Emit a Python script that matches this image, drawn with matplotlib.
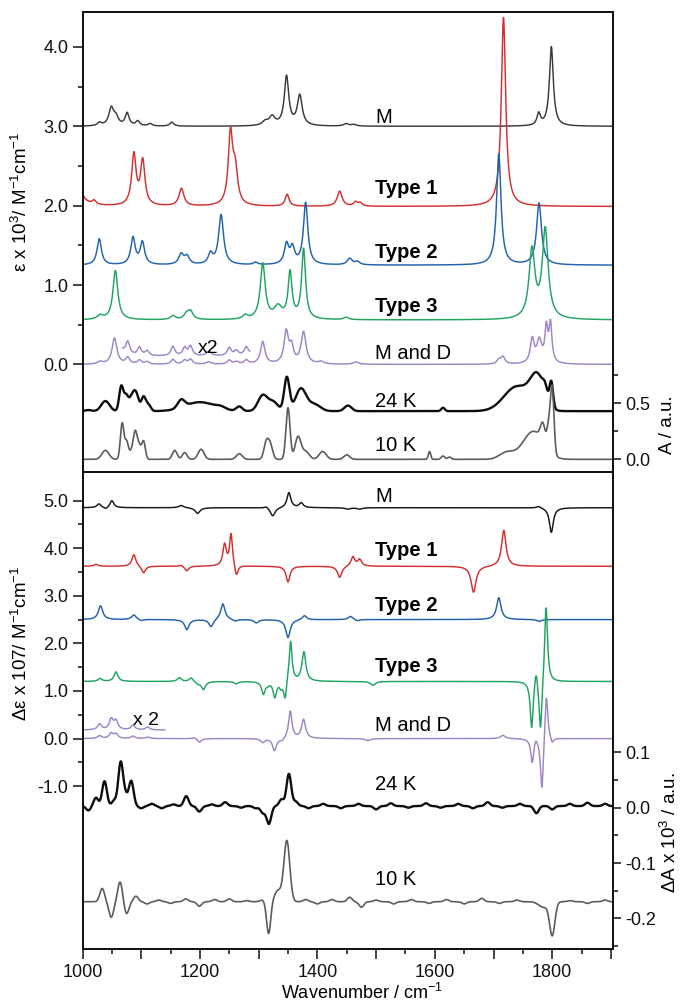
import numpy as np
import matplotlib
matplotlib.use('Agg')
import matplotlib.pyplot as plt
from matplotlib.ticker import FixedLocator, FuncFormatter

plt.rcParams['font.family'] = ['Liberation Sans', 'DejaVu Sans']
plt.rcParams['mathtext.fontset'] = 'custom'
plt.rcParams['mathtext.rm'] = 'Liberation Sans'
plt.rcParams['mathtext.it'] = 'Liberation Sans:italic'
plt.rcParams['mathtext.bf'] = 'Liberation Sans:bold'
plt.rcParams['axes.unicode_minus'] = False

# ---------------- data (band centres / heights / half-widths) -------------
# upper panel: calculated IR spectra (epsilon x 10^3, stacked with offsets)
M_off = 3.0
M_pos = [1029, 1049, 1057, 1076, 1094, 1115, 1152, 1311, 1323, 1347.5, 1370, 1449, 1462, 1777, 1798.5]
M_amp = [0.04, 0.22, 0.10, 0.16, 0.06, 0.03, 0.05, 0.05, 0.11, 0.62, 0.38, 0.03, 0.02, 0.15, 1.0]
M_wid = [4, 5, 5, 4, 4, 4, 4, 6, 6, 4.5, 5, 5, 5, 3.5, 4]

T1_off = 1.99
T1_pos = [988, 1019.6, 1087.5, 1102.5, 1168.5, 1252, 1260, 1348.5, 1438, 1465, 1473, 1717]
T1_amp = [0.50, 0.05, 0.64, 0.56, 0.22, 0.88, 0.42, 0.15, 0.19, 0.05, 0.04, 2.38]
T1_wid = [8, 4, 4.5, 4.5, 5, 4.5, 5, 4, 5, 4, 4, 4.5]

T2_off = 1.25
T2_pos = [1028.5, 1086, 1102, 1168, 1178, 1218, 1236, 1294.5, 1347.5, 1357.5, 1380, 1455, 1468, 1709, 1777.5]
T2_amp = [0.33, 0.34, 0.28, 0.13, 0.10, 0.13, 0.63, 0.03, 0.25, 0.20, 0.78, 0.08, 0.04, 1.40, 0.78]
T2_wid = [4.5, 4.5, 4.5, 5, 5, 4.5, 5, 4, 4.5, 4.5, 4.5, 5, 5, 4.5, 5]

T3_off = 0.56
T3_pos = [1030, 1056, 1154, 1177, 1184, 1277, 1307, 1333, 1353.5, 1376.5, 1449, 1765.5, 1788]
T3_amp = [0.05, 0.62, 0.05, 0.07, 0.10, 0.05, 0.70, 0.15, 0.58, 0.88, 0.03, 0.86, 1.12]
T3_wid = [6, 5, 5, 5, 5, 5, 5, 8, 4, 4, 5, 6, 6]

MD_off = 0.0
MD_pos = [1030, 1054.5, 1077, 1097, 1110, 1154, 1174, 1184, 1215, 1250, 1262, 1279, 1307, 1347, 1356,
          1376.5, 1406, 1466, 1709, 1716, 1766, 1778, 1790, 1797]
MD_amp = [0.03, 0.33, 0.08, 0.05, 0.03, 0.06, 0.05, 0.06, 0.03, 0.05, 0.03, 0.05, 0.28, 0.40, 0.20,
          0.40, 0.03, 0.03, 0.05, 0.09, 0.30, 0.28, 0.42, 0.48]
MD_wid = [5, 5, 4, 4, 4, 4, 4, 4, 5, 4, 4, 4, 4.5, 4.5, 4, 5, 5, 5, 4, 4, 4, 5, 3, 3]
MD_x2_range = [1068, 1285]
MD_x2_offset = 0.10

# upper panel: experimental absorbance (right axis, A / a.u.)
K24_off = 0.43
K24_pos = [1010, 1039, 1066, 1074, 1083, 1091, 1104, 1112, 1168, 1200, 1235, 1267, 1307, 1325, 1348,
           1372, 1395, 1452, 1614, 1740, 1775, 1788, 1798.5]
K24_amp = [0.01, 0.09, 0.22, 0.12, 0.10, 0.15, 0.12, 0.06, 0.07, 0.08, 0.02, 0.04, 0.14, 0.08, 0.30,
           0.20, 0.06, 0.05, 0.03, 0.22, 0.28, 0.08, 0.22]
K24_sig = [5, 7, 3.5, 3.5, 5, 5, 3.5, 4, 6, 25, 8, 5, 8, 8, 4.5, 9, 10, 6, 3, 22, 12, 4, 3]

K10_off = 0.0
K10_pos = [1039, 1067.5, 1075, 1083, 1090, 1097, 1104, 1157, 1174, 1202, 1267, 1313, 1320, 1350, 1367,
           1380, 1409, 1450, 1591, 1614, 1625, 1722, 1768, 1784, 1794, 1800]
K10_amp = [0.08, 0.32, 0.15, 0.06, 0.24, 0.10, 0.16, 0.08, 0.06, 0.09, 0.05, 0.15, 0.12, 0.46, 0.20,
           0.07, 0.07, 0.04, 0.07, 0.03, 0.02, 0.06, 0.25, 0.16, 0.20, 0.58]
K10_sig = [6, 3, 3, 4, 3.5, 3, 3, 4, 4, 5, 5, 4, 4, 3.5, 5, 6, 6, 5, 2, 3, 3, 12, 18, 4, 3, 3]

# lower panel: calculated VCD spectra (delta epsilon x 10^7, stacked)
Mb_off = 4.85
Mb_pos = [1028, 1040, 1050, 1168, 1196, 1313, 1324, 1351.5, 1372.5, 1452, 1472, 1777, 1798.5]
Mb_amp = [0.08, -0.04, 0.15, 0.05, -0.12, 0.04, -0.18, 0.32, 0.10, -0.03, -0.03, 0.04, -0.52]
Mb_wid = [4, 4, 4, 5, 5, 4, 5, 4, 4, 5, 5, 5, 4]

T1b_off = 3.62
T1b_pos = [1023, 1087.5, 1104, 1168, 1177.5, 1242, 1253, 1262, 1350, 1438, 1460.5, 1472, 1666, 1717.5]
T1b_amp = [0.04, 0.25, -0.15, 0.03, -0.10, 0.45, 0.68, -0.25, -0.33, -0.24, 0.20, 0.14, -0.55, 0.76]
T1b_wid = [4, 4, 4, 4, 4, 3.5, 3, 3.5, 4, 4.5, 4, 4, 5, 4.5]

T2b_off = 2.50
T2b_pos = [1030.7, 1087.5, 1100, 1177.7, 1219, 1239, 1260, 1296, 1350, 1378, 1456.5, 1468, 1709, 1778]
T2b_amp = [0.29, 0.10, -0.03, -0.21, -0.16, 0.34, -0.04, -0.07, -0.38, 0.09, 0.07, -0.03, 0.46, -0.04]
T2b_wid = [4.5, 4.5, 4.5, 4.5, 4.5, 4.5, 4.5, 4.5, 4.5, 4.5, 4.5, 4.5, 4.5, 4.5]

T3b_off = 1.20
T3b_pos = [1030, 1057, 1165, 1185, 1197, 1206, 1262, 1308, 1315, 1327.5, 1338, 1345, 1354.4, 1377,
           1494.5, 1765, 1772.5, 1780, 1789.5]
T3b_amp = [0.06, 0.20, 0.08, 0.08, -0.05, -0.17, -0.05, -0.26, -0.05, -0.33, -0.12, -0.40, 0.87, 0.62,
           -0.08, -1.0, 0.36, -1.12, 1.65]
T3b_wid = [4, 4, 4, 4, 4, 4, 4, 3.5, 3, 3.5, 3, 3, 3, 4, 5, 3, 3, 3, 3]

MDb_off = 0.0
MDb_pos = [1029, 1049, 1057, 1086, 1111, 1191, 1199, 1307, 1327, 1340, 1353.8, 1376.5, 1486, 1716,
           1766, 1772, 1782.5, 1790, 1800]
MDb_amp = [0.06, 0.11, 0.09, 0.05, 0.03, 0.03, -0.08, -0.08, -0.26, -0.06, 0.58, 0.40, -0.04, 0.07,
           -0.50, 0.10, -1.15, 1.02, -0.12]
MDb_wid = [4, 4, 4, 4, 4, 4, 4, 4, 4, 4, 3.5, 4, 6, 5, 3, 3, 3, 3, 3]
MDb_x2_range = [1000, 1140]
MDb_x2_offset = 0.18

# lower panel: experimental VCD (right axis, delta A x 10^3)
K24b_off = 0.003
K24b_pos = [1010, 1023, 1037.5, 1054, 1065, 1073, 1083, 1100, 1118, 1135, 1155, 1176.6, 1199, 1220,
            1243, 1270, 1295, 1307, 1317.4, 1339, 1351.5, 1363, 1385, 1410, 1440, 1470, 1500, 1525,
            1555, 1585, 1610, 1640, 1665, 1690, 1715, 1745, 1773, 1800, 1830, 1860, 1890]
K24b_amp = [-0.008, 0.015, 0.045, 0.010, 0.078, 0.018, 0.045, -0.004, 0.004, -0.004, 0.003, 0.018,
            -0.010, 0.003, 0.007, -0.003, -0.004, -0.012, -0.032, 0.012, 0.058, 0.008, -0.004, 0.004,
            -0.004, 0.004, -0.006, 0.005, -0.003, 0.005, -0.003, 0.004, -0.004, 0.007, -0.003, 0.004,
            -0.013, -0.006, 0.004, 0.006, 0.004]
K24b_sig = 4.0

K10b_off = -0.17
K10b_pos = [1033.5, 1049, 1064, 1075, 1091, 1110, 1130, 1150, 1176, 1199, 1225, 1250, 1280, 1306,
            1317, 1333, 1348, 1380, 1400, 1425, 1455, 1475, 1500, 1530, 1560, 1590, 1620, 1650,
            1680, 1710, 1740, 1785, 1800, 1830, 1860, 1890]
K10b_amp = [0.024, -0.028, 0.036, -0.022, 0.010, -0.004, 0.003, -0.003, 0.005, -0.008, 0.004, 0.005,
            0.002, 0.003, -0.058, 0.02, 0.11, 0.004, -0.004, 0.004, 0.008, -0.01, 0.003, -0.004,
            0.004, -0.003, 0.004, -0.004, 0.006, -0.003, 0.003, -0.01, -0.06, 0.002, -0.003, 0.003]
K10b_sig = [4, 4, 4, 4, 4, 4, 4, 4, 4, 4, 4, 4, 4, 4, 3.5, 6, 5, 4, 4, 4, 4, 4, 4, 4,
            4, 4, 4, 4, 4, 4, 4, 8, 4.5, 4, 4, 4]

labels_top = ['M', 'Type 1', 'Type 2', 'Type 3', 'M and D', '24 K', '10 K']
labels_top_y = [3.04, 2.146, 1.339, 0.666, 0.069, -0.532, -1.087]
labels_bot = ['M', 'Type 1', 'Type 2', 'Type 3', 'M and D', '24 K', '10 K']
labels_bot_y = [4.96, 3.825, 2.68, 1.39, 0.154, -1.09, -3.08]
labels_bold = [False, True, True, True, False, False, False]

# ---------------- helpers ----------------
wn = np.arange(1000.0, 1905.01, 0.5)


def lorentz(pos, amp, wid):
    y = np.zeros_like(wn)
    for c, a, w in zip(pos, amp, wid):
        y += a / (1.0 + ((wn - c) / w) ** 2)
    return y


def gauss(pos, amp, sig):
    y = np.zeros_like(wn)
    sig = np.broadcast_to(np.asarray(sig, float), (len(pos),))
    for c, a, s in zip(pos, amp, sig):
        y += a * np.exp(-0.5 * ((wn - c) / s) ** 2)
    return y


C_M = '#3a3a3a'
C_T1 = '#d3302e'
C_T2 = '#1f62ae'
C_T3 = '#1fa463'
C_MD = '#9d86c6'
C_24 = '#0d0d0d'
C_10 = '#5c5c5c'
LW = 1.05

fig = plt.figure(figsize=(6.8, 10.02), dpi=100)
L, R = 82.5 / 680, 613 / 680
ax1 = fig.add_axes([L, 1 - 472 / 1002, R - L, (472 - 12) / 1002])
ax2 = fig.add_axes([L, 1 - 949 / 1002, R - L, (949 - 472) / 1002])
XL = (1000, 1903.5)

# ---------- upper panel ----------
ax1.plot(wn, M_off + lorentz(M_pos, M_amp, M_wid), color=C_M, lw=LW)
ax1.plot(wn, T1_off + lorentz(T1_pos, T1_amp, T1_wid), color=C_T1, lw=LW)
ax1.plot(wn, T2_off + lorentz(T2_pos, T2_amp, T2_wid), color=C_T2, lw=LW)
ax1.plot(wn, T3_off + lorentz(T3_pos, T3_amp, T3_wid), color=C_T3, lw=LW)
md = MD_off + lorentz(MD_pos, MD_amp, MD_wid)
ax1.plot(wn, md, color=C_MD, lw=LW)
sel = (wn >= MD_x2_range[0]) & (wn <= MD_x2_range[1])
ax1.plot(wn[sel], 2 * md[sel] + MD_x2_offset, color=C_MD, lw=LW)
ax1.text(1196, 0.141, 'x2', fontsize=14, ha='left', va='baseline')

ax1r = ax1.twinx()
ax1r.plot(wn, K24_off + gauss(K24_pos, K24_amp, K24_sig), color=C_24, lw=1.7)
ax1r.plot(wn, K10_off + gauss(K10_pos, K10_amp, K10_sig), color=C_10, lw=1.2)

ax1.set_xlim(*XL)
ax1.set_ylim(-1.355, 4.44)
ax1r.set_ylim(-0.113, 3.99)

for t, y, b in zip(labels_top, labels_top_y, labels_bold):
    ax1.text(1498, y, t, fontsize=14.5, fontweight='bold' if b else 'normal', ha='left', va='baseline')

# ---------- lower panel ----------
ax2.plot(wn, Mb_off + lorentz(Mb_pos, Mb_amp, Mb_wid), color='#151515', lw=LW)
ax2.plot(wn, T1b_off + lorentz(T1b_pos, T1b_amp, T1b_wid), color=C_T1, lw=LW)
ax2.plot(wn, T2b_off + lorentz(T2b_pos, T2b_amp, T2b_wid), color=C_T2, lw=LW)
ax2.plot(wn, T3b_off + lorentz(T3b_pos, T3b_amp, T3b_wid), color=C_T3, lw=LW)
mdb = MDb_off + lorentz(MDb_pos, MDb_amp, MDb_wid)
ax2.plot(wn, mdb, color=C_MD, lw=LW)
selb = (wn >= MDb_x2_range[0]) & (wn <= MDb_x2_range[1])
ax2.plot(wn[selb], 2 * mdb[selb] + MDb_x2_offset, color=C_MD, lw=LW)
ax2.text(1086, 0.295, 'x 2', fontsize=14, ha='left', va='baseline')

ax2r = ax2.twinx()
ax2r.plot(wn, K24b_off + gauss(K24b_pos, K24b_amp, K24b_sig), color=C_24, lw=1.7)
ax2r.plot(wn, K10b_off + gauss(K10b_pos, K10b_amp, K10b_sig), color=C_10, lw=1.2)

ax2.set_xlim(*XL)
ax2.set_ylim(-4.42, 5.60)
ax2r.set_ylim(-0.2555, 0.607)

for t, y, b in zip(labels_bot, labels_bot_y, labels_bold):
    ax2.text(1498, y, t, fontsize=14.5, fontweight='bold' if b else 'normal', ha='left', va='baseline')

# ---------- axes styling ----------
for a in (ax1, ax1r, ax2, ax2r):
    for s in a.spines.values():
        s.set_linewidth(1.3)
        s.set_color('#111111')
    a.tick_params(which='both', direction='out', colors='#111111', labelsize=13, width=1.1)
    a.tick_params(which='major', length=7, pad=3)
    a.tick_params(which='minor', length=3.8)

fmt1 = FuncFormatter(lambda v, p: '%.1f' % v)
ax1.tick_params(axis='x', which='both', bottom=False, labelbottom=False)
ax1.yaxis.set_major_locator(FixedLocator([0, 1, 2, 3, 4]))
ax1.yaxis.set_minor_locator(FixedLocator([0.5, 1.5, 2.5, 3.5]))
ax1.yaxis.set_major_formatter(fmt1)
ax1r.yaxis.set_major_locator(FixedLocator([0, 0.5]))
ax1r.yaxis.set_minor_locator(FixedLocator([0.25, 0.75]))
ax1r.yaxis.set_major_formatter(fmt1)
ax1r.tick_params(which='major', length=6)

ax2.yaxis.set_major_locator(FixedLocator([-1, 0, 1, 2, 3, 4, 5]))
ax2.yaxis.set_minor_locator(FixedLocator([-0.5, 0.5, 1.5, 2.5, 3.5, 4.5]))
ax2.yaxis.set_major_formatter(fmt1)
ax2r.yaxis.set_major_locator(FixedLocator([-0.2, -0.1, 0.0, 0.1]))
ax2r.yaxis.set_minor_locator(FixedLocator([-0.25, -0.15, -0.05, 0.05]))
ax2r.yaxis.set_major_formatter(fmt1)
ax2r.tick_params(which='major', length=6)

ax2.xaxis.set_major_locator(FixedLocator(list(range(1000, 1901, 100))))
ax2.xaxis.set_minor_locator(FixedLocator(list(range(1050, 1901, 100))))
ax2.xaxis.set_major_formatter(FuncFormatter(lambda v, p: '%d' % v if int(round(v)) % 200 == 0 else ''))
ax2.tick_params(axis='x', which='major', pad=4)

# ---------- axis titles ----------
fig.text(21 / 680, 1 - 202 / 1002, 'ε x 10$^3$/ M$^{-1}$cm$^{-1}$', rotation=90,
         fontsize=13.5, ha='center', va='center')
fig.text(21 / 680, 1 - 643 / 1002, 'Δε x 107/ M$^{-1}$cm$^{-1}$', rotation=90,
         fontsize=13.5, ha='center', va='center')
fig.text(668 / 680, 1 - 425 / 1002, 'A / a.u.', rotation=90, fontsize=13.5, ha='center', va='center')
fig.text(670 / 680, 1 - 833 / 1002, 'ΔA x 10$^3$ / a.u.', rotation=90, fontsize=13.5,
         ha='center', va='center')
fig.text(362 / 680, 1 - 993 / 1002, 'Wavenumber / cm$^{-1}$', fontsize=13, ha='center', va='center')

fig.savefig('out.png', dpi=100)
